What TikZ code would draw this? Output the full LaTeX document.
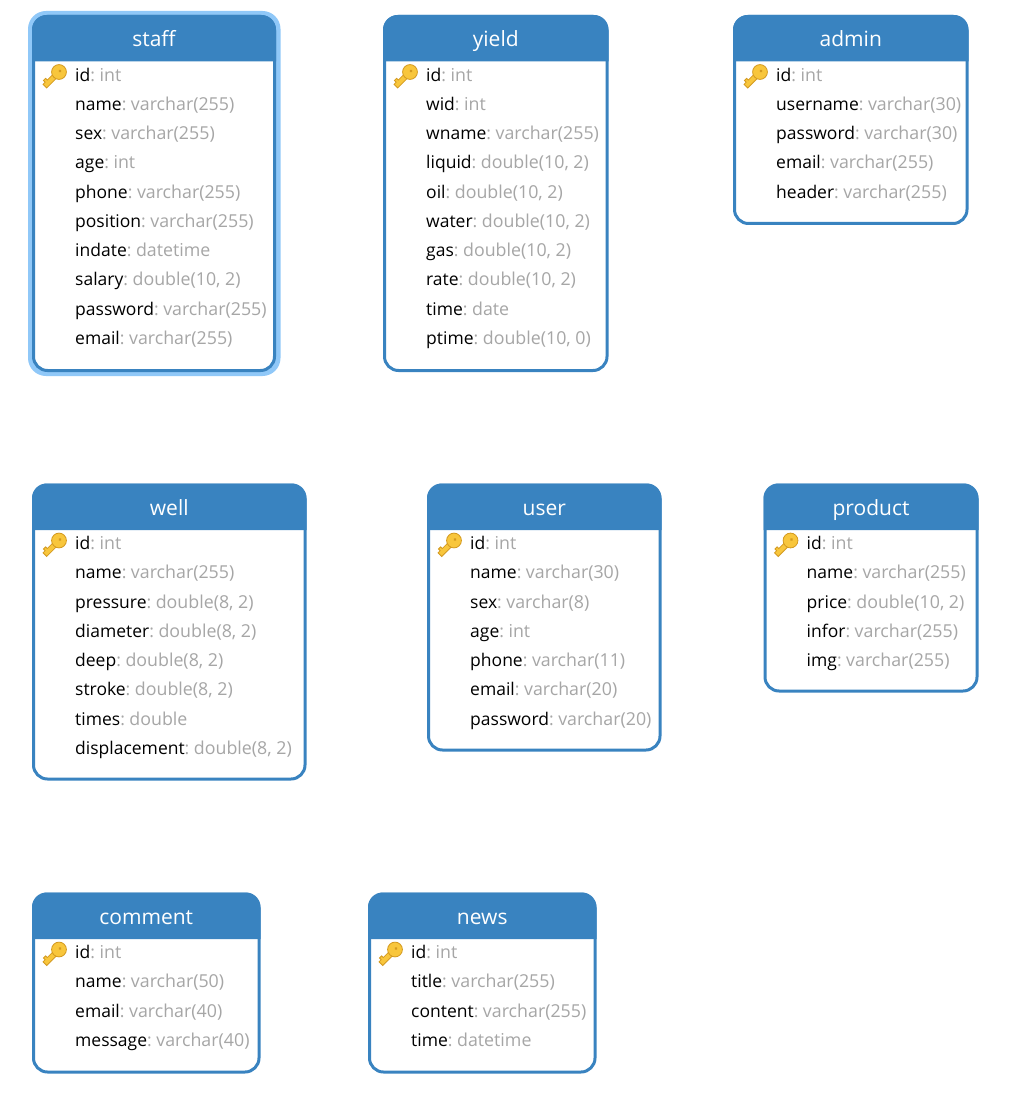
\documentclass[tikz,border=0pt]{standalone}
\usepackage{fontspec}
\setmainfont{Open Sans}
\definecolor{hdr}{HTML}{3983C0}
\definecolor{hilite}{HTML}{90C8F8}
\definecolor{typegray}{HTML}{A6A6A6}
\definecolor{keyfill}{HTML}{F8C63C}
\definecolor{keyline}{HTML}{D49A20}
\tikzset{
  x=1pt,y=1pt,
  tablebox/.style={draw=hdr,line width=3pt,fill=white,rounded corners=14pt},
  headfill/.style={fill=hdr,draw=none},
  titletext/.style={text=white,font=\fontsize{21}{25}\selectfont,inner sep=0pt,anchor=base},
  rowtext/.style={text=black,font=\fontsize{17.5}{21}\selectfont,inner sep=0pt,anchor=base west},
  keyshape/.style={fill=keyfill,draw=keyline,line width=.8pt},
}
\newcommand{\keyicon}[2]{%
  \begin{scope}[shift={(#1,#2)},rotate=45]
    \path[keyshape] (-20,-2.6) -- (-5,-2.6) -- (-5,2.6) -- (-14,2.6) -- (-14,5) -- (-17,5) -- (-17,2.6) -- (-20,2.6) -- cycle;
    \path[keyshape] (0,0) circle (7.4);
    \path[fill=keyline] (1.5,0) circle (1.6);
  \end{scope}}
\newcommand{\dbtable}[7]{% id, left, top, right, bottom, title, rows
  \path[tablebox] (#2,-#3) rectangle (#4,-#5);
  \path[headfill] (#2-1.5,-#3-45) -- (#2-1.5,-#3-13) arc[start angle=180,end angle=90,radius=14.5] -- (#4-13,-#3+1.5) arc[start angle=90,end angle=0,radius=14.5] -- (#4+1.5,-#3-45) -- cycle;
  \node[titletext] (#1title) at ({(#2+#4)/2},-#3-30) {#6};
  \keyicon{#2+25.5}{-#3-55.5}
  \foreach \n/\t [count=\i from 0] in {#7} {
    \node[rowtext] (#1row\i) at (#2+41.5,-#3-64.7-29.25*\i) {\n\textcolor{typegray}{:\hspace{-1.5pt} {\fontsize{17.8}{21}\selectfont\t}}};
  }
}
\begin{document}
\begin{tikzpicture}
\useasboundingbox (0,0) rectangle (1013,-1107);
\path[fill=hilite,rounded corners=18pt] (28,-11) rectangle (280.5,-376);
\dbtable{staff}{33.5}{16.5}{274.5}{370.5}{staff}{id/int,name/varchar(255),sex/varchar(255),age/int,phone/varchar(255),position/varchar(255),indate/datetime,salary/{double(10, 2)},password/varchar(255),email/varchar(255)}
\dbtable{yield}{384.5}{16.5}{607}{370.5}{yield}{id/int,wid/int,wname/varchar(255),liquid/{double(10, 2)},oil/{double(10, 2)},water/{double(10, 2)},gas/{double(10, 2)},rate/{double(10, 2)},time/date,ptime/{double(10, 0)}}
\dbtable{admin}{734.5}{16.5}{967}{223.5}{admin}{id/int,username/varchar(30),password/varchar(30),email/varchar(255),header/varchar(255)}
\dbtable{well}{33.5}{485}{305}{779}{well}{id/int,name/varchar(255),pressure/{double(8, 2)},diameter/{double(8, 2)},deep/{double(8, 2)},stroke/{double(8, 2)},times/double,displacement/{double(8, 2)}}
\dbtable{user}{428.5}{485}{660}{750}{user}{id/int,name/varchar(30),sex/varchar(8),age/int,phone/varchar(11),email/varchar(20),password/varchar(20)}
\dbtable{product}{765}{485}{977}{691}{product}{id/int,name/varchar(255),price/{double(10, 2)},infor/varchar(255),img/varchar(255)}
\dbtable{comment}{33.5}{894}{259}{1072}{comment}{id/int,name/varchar(50),email/varchar(40),message/varchar(40)}
\dbtable{news}{369.5}{894}{595}{1072}{news}{id/int,title/varchar(255),content/varchar(255),time/datetime}
\end{tikzpicture}
\end{document}
